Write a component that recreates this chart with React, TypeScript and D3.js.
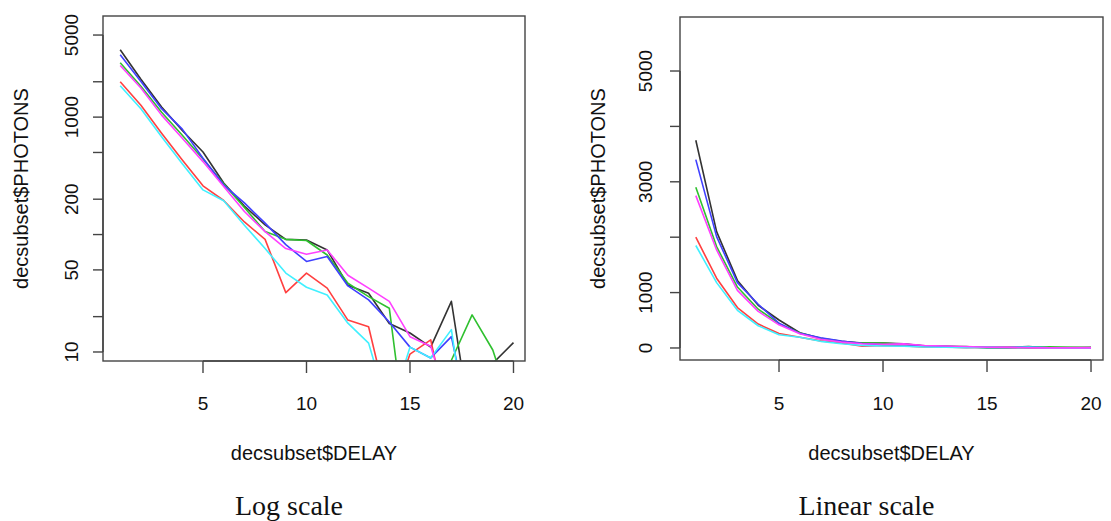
import React from 'react';
import * as d3 from 'd3';

// ---- data ----
const DELAY = [1, 2, 3, 4, 5, 6, 7, 8, 9, 10, 11, 12, 13, 14, 15, 16, 17, 18, 19, 20];
const BLACK = [3750, 2100, 1220, 770, 505, 275, 175, 121, 91, 90, 74, 37, 31.6, 17.5, 14.5, 11, 27, 2, 8, 12];
const RED = [2000, 1260, 730, 432, 260, 195, 128, 91, 32, 47, 35, 18.7, 16.4, 3, 9.6, 12.7, 2, 2, 2, 2];
const GREEN = [2900, 1830, 1100, 700, 440, 270, 170, 106, 91, 89, 67, 38.5, 29.6, 23.6, 1, 1, 8.5, 20.7, 10.4, 3];
const BLUE = [3400, 2010, 1180, 790, 446, 264, 186, 125, 82, 59, 65, 36.5, 27.8, 18, 11, 8.9, 13.5, 2, 2, 2];
const CYAN = [1850, 1180, 680, 401, 240, 194, 120, 76, 47, 35.6, 30.6, 17.6, 11.9, 3, 11, 8.9, 15.5, 1, 1, 1];
const MAGENTA = [2750, 1770, 1040, 660, 418, 256, 157, 106, 76, 68, 74, 45, 35, 27, 13.5, 11.2, 3, 2, 2, 2];

const SERIES = [
  { key: 'black', color: '#333333', values: BLACK },
  { key: 'red', color: '#ff4040', values: RED },
  { key: 'green', color: '#2fc02f', values: GREEN },
  { key: 'blue', color: '#4040ff', values: BLUE },
  { key: 'cyan', color: '#40f0ff', values: CYAN },
  { key: 'magenta', color: '#ff40ff', values: MAGENTA },
];

const X_TICKS = [5, 10, 15, 20];
const LOG_TICKS = [10, 20, 50, 100, 200, 500, 1000, 2000, 5000];
const LOG_LABELS = [10, 50, 200, 1000, 5000];
const LIN_TICKS = [0, 1000, 2000, 3000, 4000, 5000];
const LIN_LABELS = [0, 1000, 3000, 5000];

const X_TITLE = 'decsubset$DELAY';
const Y_TITLE = 'decsubset$PHOTONS';
const CAPTIONS = ['Log scale', 'Linear scale'];

const SANS = '"Liberation Sans", Arial, Helvetica, sans-serif';
const SERIF = '"Liberation Serif", "Times New Roman", serif';
const AXIS = '#444';

type PanelProps = {
  id: string;
  left: number; right: number; top: number; bottom: number;
  xDomain: [number, number];
  yScale: any;
  yTicks: number[];
  yLabels: number[];
  yLabelX: number;
  yTitleX: number;
  caption: string;
};

function Panel(p: PanelProps) {
  const x = d3.scaleLinear().domain(p.xDomain).range([p.left, p.right]);
  const y = p.yScale;
  const line = d3.line<number>()
    .x((_, i) => x(DELAY[i]))
    .y((v) => y(v));
  const cx = (p.left + p.right) / 2;
  const cy = (p.top + p.bottom) / 2;
  const yT0 = y(p.yTicks[0]);
  const yT1 = y(p.yTicks[p.yTicks.length - 1]);
  return (
    <g>
      <defs>
        <clipPath id={p.id}>
          <rect x={p.left} y={p.top} width={p.right - p.left} height={p.bottom - p.top} />
        </clipPath>
      </defs>
      <g clipPath={`url(#${p.id})`}>
        {SERIES.map((s) => (
          <path key={s.key} d={line(s.values) || ''} fill="none" stroke={s.color}
            strokeWidth={1.6} strokeLinejoin="round" />
        ))}
      </g>
      <rect x={p.left} y={p.top} width={p.right - p.left} height={p.bottom - p.top}
        fill="none" stroke={AXIS} strokeWidth={1.4} />
      {/* x axis */}
      <line x1={x(X_TICKS[0])} x2={x(X_TICKS[X_TICKS.length - 1])} y1={p.bottom} y2={p.bottom}
        stroke={AXIS} strokeWidth={1.4} />
      {X_TICKS.map((t) => (
        <g key={'x' + t}>
          <line x1={x(t)} x2={x(t)} y1={p.bottom} y2={p.bottom + 12} stroke={AXIS} strokeWidth={1.4} />
          <text x={x(t)} y={410} textAnchor="middle" fontFamily={SANS} fontSize={19} fill="#111">{t}</text>
        </g>
      ))}
      {/* y axis */}
      <line x1={p.left} x2={p.left} y1={yT0} y2={yT1} stroke={AXIS} strokeWidth={1.4} />
      {p.yTicks.map((t) => (
        <line key={'yt' + t} x1={p.left - 10} x2={p.left} y1={y(t)} y2={y(t)} stroke={AXIS} strokeWidth={1.4} />
      ))}
      {p.yLabels.map((t) => (
        <text key={'yl' + t} transform={`translate(${p.yLabelX},${y(t)}) rotate(-90)`}
          textAnchor="middle" fontFamily={SANS} fontSize={19} fill="#111">{t}</text>
      ))}
      <text x={cx} y={460} textAnchor="middle" fontFamily={SANS} fontSize={20} fill="#111">{X_TITLE}</text>
      <text transform={`translate(${p.yTitleX},${cy}) rotate(-90)`} textAnchor="middle"
        fontFamily={SANS} fontSize={20} fill="#111">{Y_TITLE}</text>
      <text x={cx - 25} y={515} textAnchor="middle" fontFamily={SERIF} fontSize={28} fill="#111">{p.caption}</text>
    </g>
  );
}

export default function App() {
  const logY = d3.scaleLog().domain([8.38, 7262]).range([361, 16]);
  const linY = d3.scaleLinear().domain([-217, 5975]).range([360, 17]);
  return (
    <svg width={1111} height={521} style={{ position: 'absolute', left: 0, top: 0, background: '#fff' }}>
      <rect width={1111} height={521} fill="#fff" />
      <Panel id="clipLog" left={103} right={525} top={16} bottom={361}
        xDomain={[0.169, 20.556]} yScale={logY} yTicks={LOG_TICKS} yLabels={LOG_LABELS}
        yLabelX={78} yTitleX={28} caption={CAPTIONS[0]} />
      <Panel id="clipLin" left={680} right={1103} top={17} bottom={360}
        xDomain={[0.24, 20.576]} yScale={linY} yTicks={LIN_TICKS} yLabels={LIN_LABELS}
        yLabelX={652} yTitleX={605} caption={CAPTIONS[1]} />
    </svg>
  );
}
